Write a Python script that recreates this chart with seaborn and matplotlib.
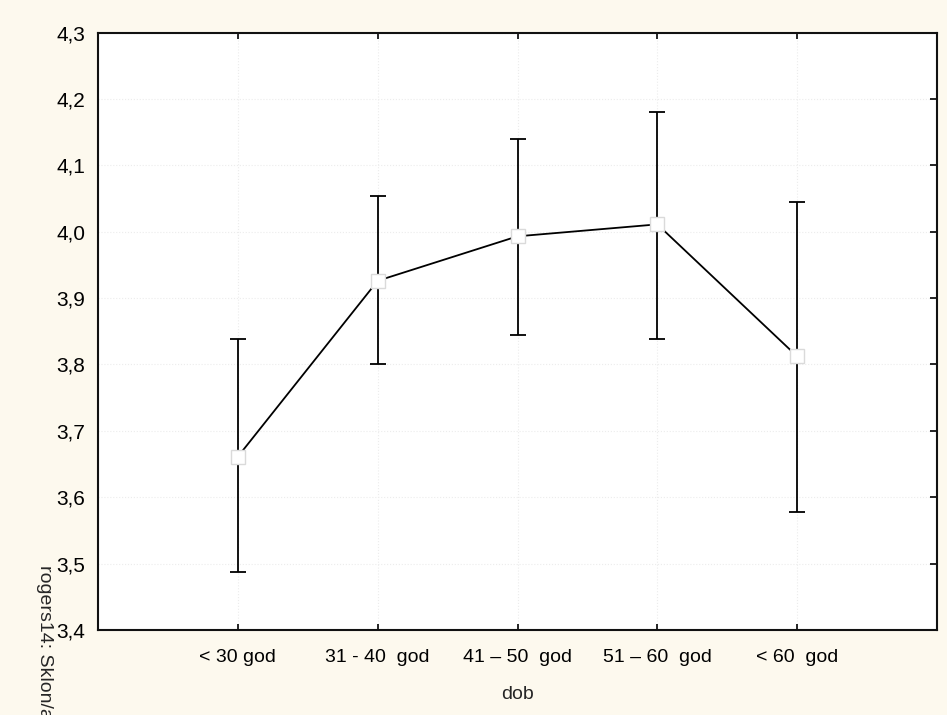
import numpy as np
import pandas as pd
import matplotlib
import matplotlib.pyplot as plt
import seaborn as sns
from matplotlib.ticker import FuncFormatter

matplotlib.use('Agg')

sns.set_style('white')
plt.rcParams['font.family'] = ['Liberation Sans', 'DejaVu Sans']

categories = ['< 30 god', '31 - 40  god', '41 \u2013 50  god', '51 \u2013 60  god', '< 60  god']
means = [3.661, 3.926, 3.993, 4.011, 3.812]
lower = [3.487, 3.800, 3.845, 3.839, 3.578]
upper = [3.839, 4.054, 4.140, 4.181, 4.044]
yticks = [3.4, 3.5, 3.6, 3.7, 3.8, 3.9, 4.0, 4.1, 4.2, 4.3]

data = pd.DataFrame({'dob': categories, 'mean': means, 'lo': lower, 'hi': upper})

fig = plt.figure(figsize=(9.47, 7.15), dpi=100, facecolor='#fdf9ee')
ax = fig.add_axes([0.1035, 0.119, 0.886, 0.8355])
ax.set_facecolor('white')

# confidence intervals behind the points
pos = np.arange(len(data))
yerr = [data['mean'] - data['lo'], data['hi'] - data['mean']]
ax.errorbar(pos, data['mean'], yerr=yerr, fmt='none', ecolor='black',
            elinewidth=1.3, capsize=5.5, capthick=1.3, zorder=2)

sns.pointplot(x='dob', y='mean', data=data, order=categories,
              color='black', markers='s', errorbar=None,
              markersize=10, markerfacecolor='white', markeredgecolor='#dadada',
              markeredgewidth=1.0, linewidth=1.3, ax=ax, zorder=3)

ax.set_xlim(-1, len(categories))
ax.set_ylim(3.4, 4.3)
ax.set_yticks(yticks)
ax.yaxis.set_major_formatter(FuncFormatter(lambda v, p: f'{v:.1f}'.replace('.', ',')))

ax.grid(True, color='#ececec', linestyle=':', linewidth=0.8)
ax.set_axisbelow(True)

ax.tick_params(axis='x', direction='in', top=True, bottom=True, length=4,
               width=1.2, labelsize=14, pad=14, colors='black')
ax.tick_params(axis='y', direction='in', left=False, right=True, length=5,
               width=1.2, labelsize=15, pad=9, colors='black')
for s in ax.spines.values():
    s.set_color('#111111')
    s.set_linewidth(1.5)

ax.set_xlabel('dob', fontsize=14, labelpad=14)
ax.set_ylabel('')
# axis title runs off the bottom edge, as in the source figure
fig.text(0.047, 0.21, 'rogers14: Sklon/a', rotation=270, fontsize=14,
         ha='center', va='top')

fig.savefig('out.png', dpi=100, facecolor=fig.get_facecolor())
